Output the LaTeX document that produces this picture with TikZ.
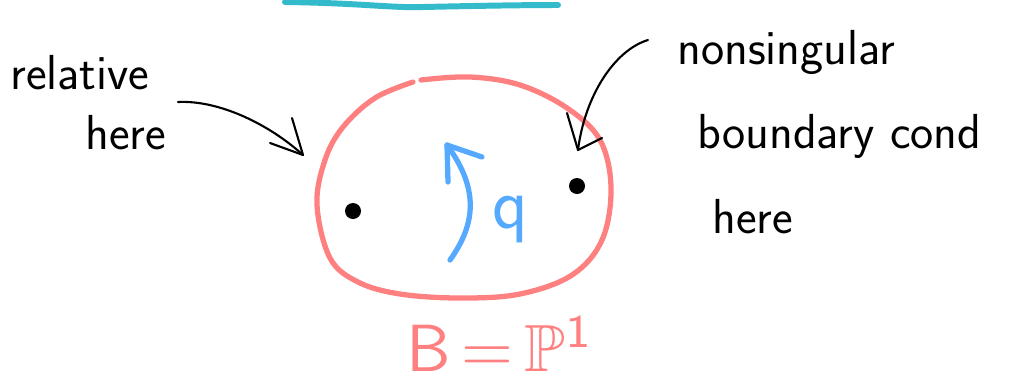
\documentclass[tikz,border=0pt]{standalone}
\usepackage{amssymb}
\definecolor{PenRed}{HTML}{FF8080}
\definecolor{PenBlue}{HTML}{55AAFF}
\definecolor{PenTeal}{HTML}{33BBCC}

\begin{document}
\begin{tikzpicture}[x=0.02cm,y=-0.02cm,line cap=round,line join=round,
  note/.style={font=\sffamily\fontsize{28}{30}\selectfont,align=left,inner sep=0pt}]
  \useasboundingbox (0,0) rectangle (1031,386);
  \draw[PenTeal,line width=3.4pt] (285,2) .. controls (360,3) and (390,8) .. (423,7) .. controls (470,6) and (520,5) .. (558,5);
  % the base curve, open at the top
  \draw[PenRed,line width=3pt] plot[smooth,tension=0.6] coordinates {(421,80) (470,77) (520,85) (567,108) (600,140) (611,188) (602,240) (572,275) (520,294) (460,298) (400,294) (358,282) (330,258) (317,205) (325,160) (343,127) (375,98) (413,82)};
  \foreach \x/\y/\lab in {353/211/ptL,577/186/ptR}{\fill (\x,\y) circle (8) coordinate (\lab);}
  \coordinate (qTail) at (450,260); \coordinate (qTip) at (447,145);
  \draw[PenBlue,line width=3pt] (qTail) .. controls (475,225) and (480,190) .. (qTip);
  \draw[PenBlue,line width=3pt] (482,157) -- (qTip) -- (448,182);
  \node[PenBlue,font=\sffamily\fontsize{42}{42}\selectfont] (qLab) at (510,220) {q};
  \node[PenRed,scale=3.8,inner sep=0pt] (base) at (500,344) {\sffamily B\,=\,$\mathbb{P}^{\mathsf{1}}$};
  % labels and their arrows
  \node[note,anchor=north west] (relNote) at (10,55) {relative\\[4pt]\hspace{1.5cm}here};
  \coordinate (relTip) at (303,155);
  \draw[line width=1.2pt] (178,102) .. controls (220,100) and (270,125) .. (relTip);
  \draw[line width=1.2pt] (292,118) -- (relTip) -- (270,143);
  \node[note,anchor=north west] (nonNote) at (677,30) {nonsingular\\[18pt]\hspace{0.4cm}boundary cond\\[18pt]\hspace{0.7cm}here};
  \coordinate (nonTip) at (578,150);
  \draw[line width=1.2pt] (648,40) .. controls (615,50) and (585,95) .. (nonTip);
  \draw[line width=1.2pt] (567,113) -- (nonTip) -- (602,138);
\end{tikzpicture}
\end{document}
